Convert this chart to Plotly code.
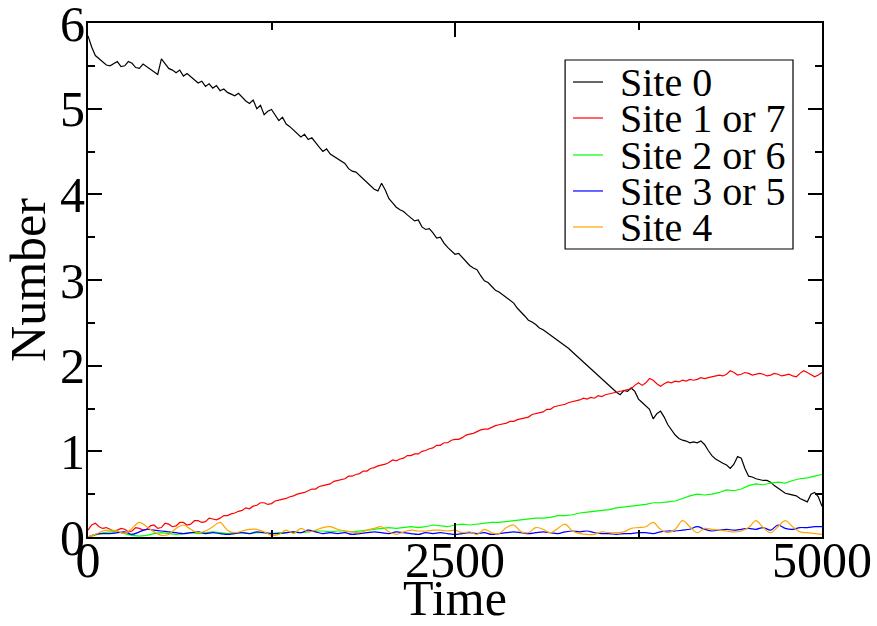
import plotly.graph_objects as go

# Fine time grid (every 25 time units) for the noisy curves
time_fine = list(range(0, 5001, 25))
# Coarse time grid (every 50 time units) for the low-population sites
time = list(range(0, 5001, 50))

site0 = [5.85, 5.72, 5.62, 5.58, 5.55, 5.51, 5.50, 5.53, 5.55, 5.49,
         5.50, 5.55, 5.53, 5.48, 5.47, 5.52, 5.49, 5.46, 5.44, 5.40,
         5.58, 5.52, 5.47, 5.45, 5.42, 5.45, 5.38, 5.41, 5.37, 5.34,
         5.30, 5.32, 5.26, 5.29, 5.24, 5.27, 5.21, 5.23, 5.19, 5.17,
         5.15, 5.18, 5.13, 5.09, 5.06, 5.10, 5.00, 5.04, 4.93, 4.97,
         4.99, 4.92, 4.86, 4.90, 4.82, 4.79, 4.75, 4.72, 4.67, 4.70,
         4.64, 4.66, 4.60, 4.55, 4.50, 4.53, 4.47, 4.44, 4.41, 4.39,
         4.36, 4.30, 4.27, 4.26, 4.22, 4.18, 4.15, 4.11, 4.06, 4.04,
         4.13, 4.05, 3.95, 3.90, 3.85, 3.82, 3.80, 3.76, 3.73, 3.69,
         3.70, 3.62, 3.59, 3.60, 3.55, 3.49, 3.50, 3.43, 3.38, 3.34,
         3.30, 3.31, 3.26, 3.22, 3.17, 3.14, 3.12, 3.05, 2.99, 2.97,
         2.93, 2.88, 2.86, 2.83, 2.80, 2.76, 2.73, 2.67, 2.63, 2.58,
         2.53, 2.51, 2.48, 2.44, 2.42, 2.39, 2.36, 2.33, 2.30, 2.27,
         2.24, 2.20, 2.16, 2.12, 2.09, 2.05, 2.01, 1.97, 1.93, 1.89,
         1.85, 1.81, 1.77, 1.72, 1.69, 1.66, 1.71, 1.70, 1.74, 1.70,
         1.61, 1.57, 1.53, 1.49, 1.38, 1.44, 1.47, 1.40, 1.31, 1.25,
         1.19, 1.15, 1.13, 1.12, 1.10, 1.11, 1.10, 1.12, 1.08, 1.01,
         0.95, 0.91, 0.88, 0.86, 0.84, 0.80, 0.85, 0.94, 0.92, 0.80,
         0.71, 0.70, 0.68, 0.67, 0.66, 0.66, 0.64, 0.60, 0.57, 0.54,
         0.51, 0.50, 0.49, 0.48, 0.45, 0.43, 0.41, 0.50, 0.52, 0.47,
         0.36]

site1or7 = [0.08, 0.14, 0.16, 0.12, 0.10, 0.11, 0.09, 0.07, 0.08, 0.10,
            0.09, 0.06, 0.07, 0.11, 0.10, 0.08, 0.09, 0.13, 0.14, 0.10,
            0.11, 0.16, 0.15, 0.12, 0.13, 0.17, 0.17, 0.14, 0.15, 0.19,
            0.19, 0.17, 0.18, 0.22, 0.21, 0.20, 0.22, 0.25, 0.25, 0.27,
            0.28, 0.30, 0.31, 0.34, 0.33, 0.36, 0.37, 0.40, 0.40, 0.38,
            0.39, 0.42, 0.43, 0.44, 0.45, 0.47, 0.48, 0.50, 0.51, 0.52,
            0.54, 0.56, 0.56, 0.59, 0.60, 0.61, 0.62, 0.65, 0.66, 0.67,
            0.68, 0.71, 0.71, 0.73, 0.74, 0.77, 0.77, 0.80, 0.81, 0.83,
            0.84, 0.85, 0.87, 0.90, 0.89, 0.91, 0.92, 0.95, 0.95, 0.97,
            0.97, 1.00, 1.01, 1.03, 1.04, 1.07, 1.07, 1.10, 1.10, 1.13,
            1.14, 1.14, 1.16, 1.19, 1.20, 1.21, 1.23, 1.25, 1.26, 1.26,
            1.28, 1.30, 1.31, 1.32, 1.33, 1.35, 1.35, 1.37, 1.38, 1.39,
            1.40, 1.43, 1.44, 1.45, 1.46, 1.49, 1.49, 1.52, 1.53, 1.54,
            1.55, 1.57, 1.58, 1.59, 1.60, 1.62, 1.61, 1.63, 1.62, 1.65,
            1.64, 1.66, 1.67, 1.68, 1.69, 1.70, 1.71, 1.72, 1.73, 1.77,
            1.80, 1.77, 1.80, 1.85, 1.83, 1.79, 1.76, 1.79, 1.81, 1.80,
            1.82, 1.81, 1.83, 1.82, 1.84, 1.83, 1.84, 1.86, 1.85, 1.86,
            1.87, 1.88, 1.89, 1.88, 1.90, 1.94, 1.92, 1.89, 1.90, 1.92,
            1.91, 1.89, 1.90, 1.91, 1.90, 1.88, 1.89, 1.91, 1.90, 1.88,
            1.89, 1.90, 1.88, 1.87, 1.91, 1.94, 1.92, 1.89, 1.87, 1.89,
            1.92]

site2or6 = [0.00, 0.02, 0.05, 0.06, 0.06, 0.04, 0.02, 0.01, 0.02, 0.04,
            0.05, 0.04, 0.03, 0.04, 0.05, 0.04, 0.05, 0.06, 0.05, 0.04,
            0.05, 0.05, 0.04, 0.05, 0.05, 0.04, 0.05, 0.05, 0.06, 0.05,
            0.06, 0.07, 0.07, 0.06, 0.07, 0.07, 0.06, 0.07, 0.08, 0.09,
            0.10, 0.11, 0.10, 0.11, 0.12, 0.11, 0.12, 0.14, 0.13, 0.12,
            0.14, 0.15, 0.14, 0.15, 0.16, 0.17, 0.17, 0.18, 0.19, 0.20,
            0.21, 0.22, 0.22, 0.23, 0.25, 0.25, 0.26, 0.28, 0.29, 0.30,
            0.31, 0.32, 0.34, 0.35, 0.36, 0.37, 0.38, 0.40, 0.40, 0.41,
            0.42, 0.45, 0.48, 0.50, 0.49, 0.50, 0.52, 0.55, 0.54, 0.56,
            0.60, 0.62, 0.61, 0.63, 0.64, 0.63, 0.66, 0.68, 0.69, 0.71,
            0.73]

site3or5 = [0.00, 0.03, 0.04, 0.04, 0.05, 0.06, 0.03, 0.06, 0.09, 0.08,
            0.07, 0.06, 0.05, 0.04, 0.05, 0.06, 0.04, 0.05, 0.04, 0.03,
            0.04, 0.05, 0.04, 0.06, 0.05, 0.04, 0.04, 0.05, 0.06, 0.05,
            0.08, 0.06, 0.04, 0.05, 0.04, 0.05, 0.03, 0.04, 0.05, 0.06,
            0.05, 0.04, 0.06, 0.05, 0.04, 0.03, 0.05, 0.04, 0.05, 0.04,
            0.03, 0.04, 0.05, 0.04, 0.05, 0.03, 0.04, 0.05, 0.06, 0.05,
            0.04, 0.05, 0.06, 0.05, 0.04, 0.06, 0.07, 0.06, 0.07, 0.05,
            0.04, 0.04, 0.03, 0.04, 0.04, 0.05, 0.05, 0.04, 0.06, 0.07,
            0.07, 0.08, 0.09, 0.12, 0.09, 0.07, 0.08, 0.09, 0.08, 0.09,
            0.10, 0.09, 0.11, 0.08, 0.14, 0.10, 0.09, 0.11, 0.11, 0.12,
            0.12]

site4 = [0.00, 0.03, 0.07, 0.08, 0.07, 0.04, 0.10, 0.17, 0.12, 0.06,
         0.02, 0.03, 0.10, 0.14, 0.09, 0.05, 0.07, 0.12, 0.17, 0.08,
         0.05, 0.07, 0.09, 0.09, 0.06, 0.02, 0.03, 0.08, 0.04, 0.10,
         0.06, 0.08, 0.11, 0.12, 0.09, 0.07, 0.06, 0.05, 0.08, 0.10,
         0.12, 0.06, 0.03, 0.06, 0.08, 0.07, 0.07, 0.08, 0.08, 0.07,
         0.08, 0.05, 0.06, 0.03, 0.09, 0.05, 0.04, 0.11, 0.14, 0.06,
         0.05, 0.11, 0.09, 0.05, 0.10, 0.15, 0.07, 0.04, 0.03, 0.03,
         0.06, 0.05, 0.05, 0.06, 0.10, 0.11, 0.12, 0.17, 0.09, 0.05,
         0.09, 0.19, 0.12, 0.05, 0.10, 0.09, 0.08, 0.07, 0.06, 0.07,
         0.11, 0.19, 0.11, 0.05, 0.12, 0.19, 0.12, 0.06, 0.05, 0.04,
         0.03]

names = ["Site 0", "Site 1 or 7", "Site 2 or 6", "Site 3 or 5", "Site 4"]
series = [site0, site1or7, site2or6, site3or5, site4]
grids = [time_fine, time_fine, time, time, time]
colors = ["#000000", "#ff0000", "#00ff00", "#0000ff", "#ffa500"]
shapes_line = ["linear", "linear", "linear", "spline", "spline"]

x_ticks = [0, 2500, 5000]
y_ticks = [0, 1, 2, 3, 4, 5, 6]

FONT = "Liberation Serif, Times New Roman, serif"

fig = go.Figure()
for name, xs, ys, col, shp in zip(names, grids, series, colors, shapes_line):
    fig.add_trace(go.Scatter(x=xs, y=ys, mode="lines", name=name,
                             line=dict(color=col, width=1.2, shape=shp),
                             showlegend=False))

# Boxed legend drawn in paper coordinates
legend_box = dict(x0=0.650, x1=0.9605, y0=0.5603, y1=0.928)
entry_y = [0.8852, 0.8152, 0.7432, 0.6732, 0.6031]
shapes = [dict(type="rect", xref="paper", yref="paper", layer="above",
               line=dict(color="#000000", width=1.2), fillcolor="white",
               **legend_box)]
annotations = []
for name, col, yy in zip(names, colors, entry_y):
    shapes.append(dict(type="line", xref="paper", yref="paper", layer="above",
                       x0=0.6608, x1=0.7016, y0=yy, y1=yy,
                       line=dict(color=col, width=1.2)))
    annotations.append(dict(xref="paper", yref="paper", x=0.7221, y=yy,
                            xanchor="left", yanchor="middle", text=name,
                            height=36, valign="middle", showarrow=False,
                            font=dict(family=FONT, size=40, color="#000000")))

axis_common = dict(showline=True, linecolor="#000000", linewidth=2,
                   mirror="ticks", ticks="inside", ticklen=14, tickwidth=2,
                   tickcolor="#000000", showgrid=False, zeroline=False,
                   automargin=False, ticklabeloverflow="allow",
                   tickfont=dict(family=FONT, size=50, color="#000000"))

fig.update_layout(
    width=877, height=626,
    margin=dict(l=88, r=55, t=23, b=89),
    paper_bgcolor="white", plot_bgcolor="white",
    font=dict(family=FONT, color="#000000"),
    shapes=shapes, annotations=annotations,
    xaxis=dict(range=[0, 5000], tickmode="array", tickvals=x_ticks,
               ticktext=[str(v) for v in x_ticks], ticklabelstandoff=-22,
               minor=dict(dtick=1250, tick0=0, ticks="inside", ticklen=7,
                          tickwidth=2, tickcolor="#000000"),
               title=dict(text="Time", font=dict(family=FONT, size=50),
                          standoff=5),
               **axis_common),
    yaxis=dict(range=[0, 6], tickmode="array", tickvals=y_ticks,
               ticktext=[str(v) for v in y_ticks], ticklabelstandoff=-9,
               minor=dict(dtick=0.5, tick0=0, ticks="inside", ticklen=7,
                          tickwidth=2, tickcolor="#000000"),
               title=dict(text="Number", font=dict(family=FONT, size=50),
                          standoff=0),
               **axis_common),
)

fig.write_html("out.html")
